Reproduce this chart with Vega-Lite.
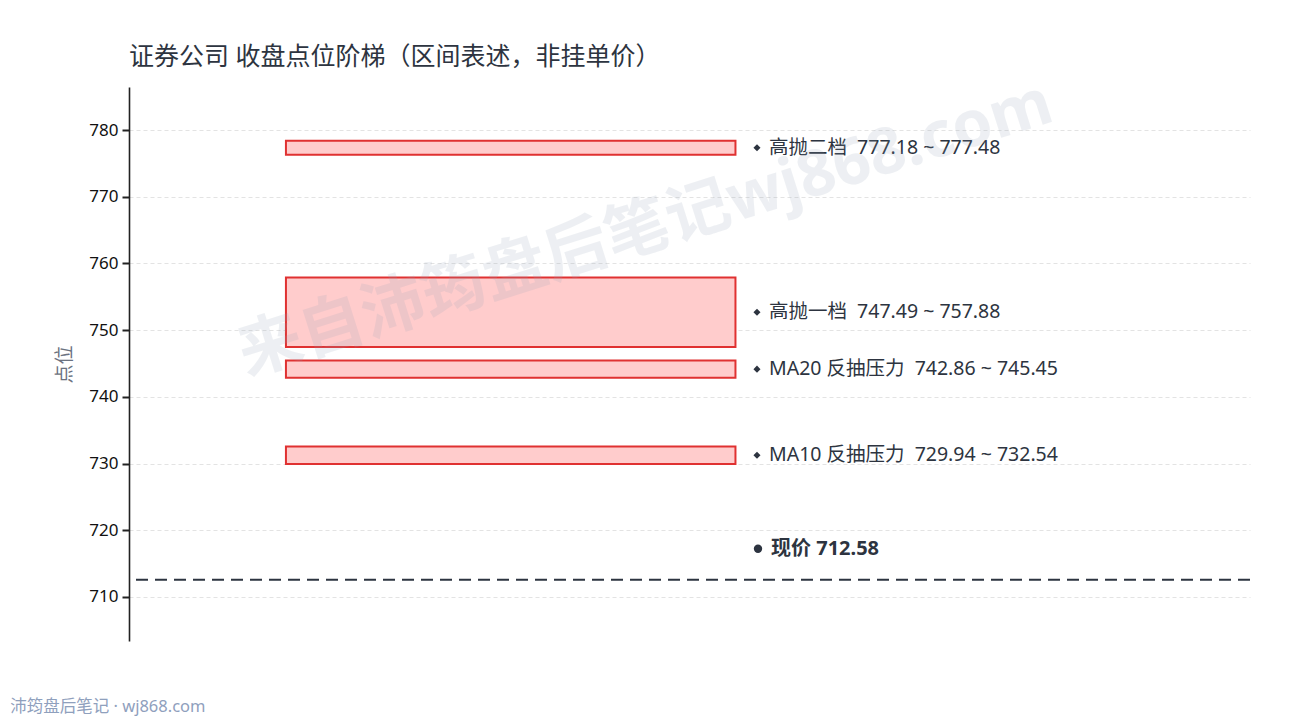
{
  "$schema": "https://vega.github.io/schema/vega-lite/v6.json",
  "autosize": {"type": "none"},
  "padding": {"left": 129, "top": 87, "right": 40, "bottom": 79},
  "width": 1121,
  "height": 554,
  "background": "white",
  "config": {
    "font": "Noto Sans, Noto Sans CJK SC",
    "view": {"stroke": null}
  },
  "title": {
    "text": "证券公司 收盘点位阶梯（区间表述，非挂单价）",
    "anchor": "start",
    "frame": "group",
    "fontSize": 25,
    "fontWeight": "normal",
    "color": "#2d3440",
    "offset": 2
  },
  "datasets": {
    "zones": [
      {"name": "高抛二档", "lo": 777.18, "hi": 777.48},
      {"name": "高抛一档", "lo": 747.49, "hi": 757.88},
      {"name": "MA20 反抽压力", "lo": 742.86, "hi": 745.45},
      {"name": "MA10 反抽压力", "lo": 729.94, "hi": 732.54}
    ],
    "price": [{"label": "现价", "close": 712.58}]
  },
  "layer": [
    {
      "data": {"name": "zones"},
      "transform": [
        {"calculate": "(datum.lo + datum.hi) / 2", "as": "mid"},
        {"calculate": "max(datum.hi - datum.lo, 2.1) / 2", "as": "half"},
        {"calculate": "datum.mid - datum.half", "as": "y0"},
        {"calculate": "datum.mid + datum.half", "as": "y1"}
      ],
      "mark": {"type": "rect", "fill": "#ffcccc", "stroke": "#e03131", "strokeWidth": 2},
      "encoding": {
        "x": {"datum": 0.14, "type": "quantitative", "scale": {"domain": [0, 1]}, "axis": null},
        "x2": {"datum": 0.541},
        "y": {
          "field": "y0",
          "type": "quantitative",
          "scale": {"domain": [703.4, 786.45], "nice": false, "zero": false},
          "axis": {
            "title": "点位",
            "titleColor": "#6b7280",
            "titleFontSize": 19,
            "titleFontWeight": "normal",
            "titlePadding": 14,
            "values": [710, 720, 730, 740, 750, 760, 770, 780],
            "labelFontSize": 17,
            "labelColor": "#111111",
            "labelPadding": 4,
            "tickColor": "#222222",
            "tickSize": 7,
            "tickWidth": 2,
            "domainColor": "#222222",
            "domainWidth": 1.6,
            "grid": true,
            "gridColor": "#dcdcdc",
            "gridDash": [4, 3],
            "gridWidth": 0.8
          }
        },
        "y2": {"field": "y1"}
      }
    },
    {
      "data": {"name": "zones"},
      "transform": [{"calculate": "(datum.lo + datum.hi) / 2", "as": "mid"}],
      "mark": {"type": "point", "shape": "diamond", "filled": true, "size": 50, "color": "#2d3440", "opacity": 1},
      "encoding": {
        "x": {"datum": 0.5602, "type": "quantitative"},
        "y": {"field": "mid", "type": "quantitative"}
      }
    },
    {
      "data": {"name": "zones"},
      "transform": [
        {"calculate": "(datum.lo + datum.hi) / 2", "as": "mid"},
        {"calculate": "datum.name + '\u00a0\u00a0' + format(datum.lo, '.2f') + ' ~ ' + format(datum.hi, '.2f')", "as": "txt"}
      ],
      "mark": {"type": "text", "align": "left", "baseline": "middle", "fontSize": 19.5, "color": "#2d3440"},
      "encoding": {
        "x": {"datum": 0.5709, "type": "quantitative"},
        "y": {"field": "mid", "type": "quantitative"},
        "text": {"field": "txt"}
      }
    },
    {
      "data": {"name": "price"},
      "mark": {"type": "rule", "color": "#2d3440", "strokeWidth": 2, "strokeDash": [12, 7]},
      "encoding": {
        "y": {"field": "close", "type": "quantitative"}
      }
    },
    {
      "data": {"name": "price"},
      "mark": {"type": "point", "shape": "circle", "filled": true, "size": 70, "color": "#2d3440", "opacity": 1},
      "encoding": {
        "x": {"datum": 0.5611, "type": "quantitative"},
        "y": {"field": "close", "type": "quantitative"},
        "yOffset": {"value": -31}
      }
    },
    {
      "data": {"name": "price"},
      "transform": [{"calculate": "datum.label + ' ' + format(datum.close, '.2f')", "as": "txt"}],
      "mark": {"type": "text", "align": "left", "baseline": "middle", "fontSize": 20, "fontWeight": "bold", "color": "#2d3440", "dy": -31},
      "encoding": {
        "x": {"datum": 0.5727, "type": "quantitative"},
        "y": {"field": "close", "type": "quantitative"},
        "text": {"field": "txt"}
      }
    },
    {
      "data": {"values": [{"wm": "来自沛筠盘后笔记wj868.com"}]},
      "mark": {"type": "text", "align": "center", "baseline": "middle", "fontSize": 64, "fontWeight": "bold", "angle": -17.5, "color": "#94a3b8", "opacity": 0.16},
      "encoding": {
        "x": {"datum": 0.461, "type": "quantitative"},
        "y": {"datum": 765, "type": "quantitative"},
        "text": {"field": "wm"}
      }
    },
    {
      "data": {"values": [{"ft": "沛筠盘后笔记 · wj868.com"}]},
      "mark": {"type": "text", "align": "left", "baseline": "middle", "fontSize": 16.5, "color": "#8fa0bd"},
      "encoding": {
        "x": {"datum": -0.106, "type": "quantitative"},
        "y": {"datum": 693.5, "type": "quantitative"},
        "text": {"field": "ft"}
      }
    }
  ]
}
